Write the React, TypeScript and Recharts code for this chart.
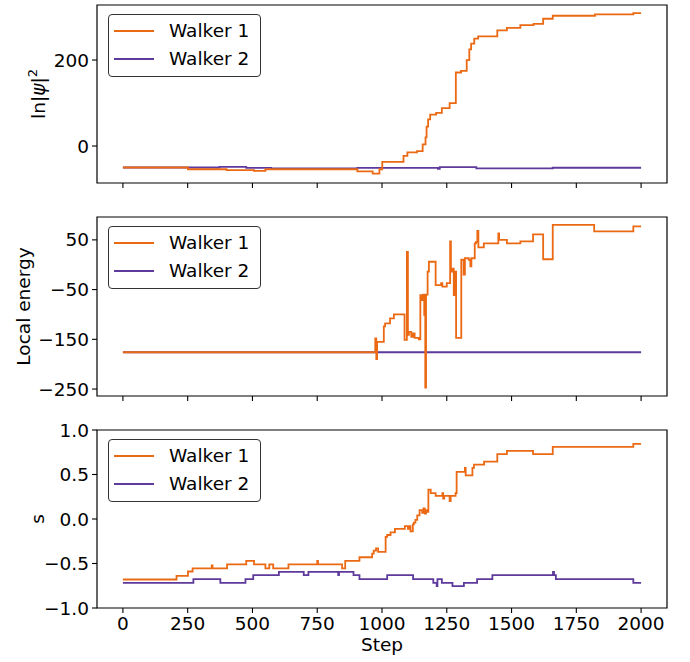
import React from 'react';
import { LineChart, Line, XAxis, YAxis, ReferenceArea } from 'recharts';

// ---------- data ----------
const seriesNames = ['Walker 1', 'Walker 2'];
const seriesColors = ['#EC6913', '#5D3A9B'];
const xTicks = [0, 250, 500, 750, 1000, 1250, 1500, 1750, 2000];

// ln|psi|^2
const psiW1Steps = [0, 251, 400, 506, 550, 905, 964, 990, 1001, 1083, 1098, 1135, 1157, 1168, 1172, 1178, 1186, 1209, 1231, 1261, 1285, 1305, 1327, 1337, 1344, 1356, 1371, 1445, 1482, 1534, 1585, 1622, 1659, 1822, 1970, 2000];
const psiW1Vals = [-50, -54, -56, -58, -54, -59, -64, -54, -37, -23, -15, -12, 4, 20, 45, 62, 73, 77, 88, 100, 171, 175, 200, 225, 238, 250, 255, 269, 275, 281, 284, 296, 303, 306, 309, 309];
const psiW2Steps = [0, 373, 476, 572, 905, 1216, 1223, 1364, 1659, 2000];
const psiW2Vals = [-50, -48.5, -51, -52, -51, -53, -49, -52, -50.5, -50.5];
const psiTicks = [0, 200];

// Local energy
const enW1Steps = [0, 974, 978, 981, 1007, 1012, 1031, 1046, 1087, 1096, 1100, 1104, 1113, 1120, 1126, 1142, 1148, 1152, 1159, 1163, 1167, 1170, 1176, 1181, 1207, 1228, 1233, 1250, 1263, 1266, 1272, 1277, 1281, 1286, 1306, 1315, 1320, 1335, 1341, 1345, 1358, 1363, 1368, 1372, 1393, 1449, 1452, 1482, 1534, 1583, 1622, 1659, 1819, 1970, 2000];
const enW1Vals = [-176, -148, -190, -155, -124, -118, -108, -100, -151, 26, -141, -135, -145, -138, -147, -150, -61, -71, -60, -101, -247, -60, -14, 6, -41, -37, -44, -37, 47, -14, -8, -61, -14, -147, 10, -20, 13, 10, -3, 13, 43, 46, 68, 35, 43, 63, 50, 43, 47, 61, 11, 80, 67, 77, 77];
const enW2Steps = [0, 2000];
const enW2Vals = [-176, -176];
const enTicks = [-250, -150, -50, 50];

// s
const sW1Steps = [0, 207, 251, 269, 343, 346, 402, 476, 506, 550, 565, 580, 639, 750, 753, 846, 858, 913, 962, 968, 977, 985, 1014, 1020, 1033, 1050, 1088, 1100, 1106, 1110, 1119, 1123, 1129, 1136, 1145, 1155, 1160, 1165, 1170, 1175, 1179, 1188, 1207, 1233, 1236, 1240, 1261, 1265, 1284, 1288, 1320, 1323, 1349, 1355, 1394, 1445, 1482, 1583, 1659, 1970, 2000];
const sW1Vals = [-0.68, -0.64, -0.59, -0.555, -0.52, -0.555, -0.51, -0.47, -0.51, -0.555, -0.51, -0.555, -0.51, -0.47, -0.51, -0.555, -0.47, -0.43, -0.39, -0.355, -0.33, -0.37, -0.2, -0.18, -0.15, -0.11, -0.08, -0.11, -0.08, -0.14, -0.06, -0.04, -0.01, 0.04, 0.1, 0.07, 0.12, 0.06, 0.1, 0.08, 0.33, 0.29, 0.26, 0.29, 0.23, 0.26, 0.2, 0.26, 0.29, 0.53, 0.575, 0.49, 0.575, 0.61, 0.645, 0.73, 0.765, 0.73, 0.81, 0.845, 0.845];
const sW2Steps = [0, 272, 376, 473, 503, 602, 698, 716, 831, 834, 890, 913, 1020, 1120, 1198, 1211, 1214, 1231, 1272, 1316, 1367, 1426, 1660, 1664, 1671, 1970, 2000];
const sW2Vals = [-0.717, -0.675, -0.717, -0.675, -0.63, -0.593, -0.63, -0.593, -0.63, -0.593, -0.63, -0.675, -0.63, -0.675, -0.717, -0.755, -0.675, -0.717, -0.754, -0.717, -0.675, -0.63, -0.593, -0.63, -0.675, -0.717, -0.717];
const sTicks = [-1, -0.5, 0, 0.5, 1];

// ---------- helpers ----------
const zip = (steps: number[], vals: number[]) => steps.map((s, i) => ({ step: s, v: vals[i] }));
const FONT = 'DejaVu Sans, sans-serif';
const FS = 18.5;
const minus = (t: string) => t.replace('-', '\u2212');

type PanelProps = {
  top: number;
  height: number;
  marginTop: number;
  xAxisHeight: number;
  domain: [number, number];
  yTicks: number[];
  yFmt: (v: number) => string;
  data: { step: number; v: number }[][];
  yLabel: (vb: any) => React.ReactNode;
  bottom?: boolean;
};

const Legend = ({ top }: { top: number }) => (
  <div
    style={{
      position: 'absolute',
      left: 108,
      top,
      width: 153,
      height: 63,
      boxSizing: 'border-box',
      border: '1.3px solid #333',
      borderRadius: 4,
      background: 'rgba(255,255,255,0.85)',
      fontFamily: FONT,
      fontSize: FS,
      color: '#000',
    }}
  >
    {seriesNames.map((n, i) => (
      <div key={n} style={{ position: 'absolute', left: 0, top: 16 + i * 28 - 12, height: 24, width: 150 }}>
        <div style={{ position: 'absolute', left: 5, top: 11, width: 40, height: 1.8, background: seriesColors[i] }} />
        <div style={{ position: 'absolute', left: 60, top: 0, lineHeight: '24px', whiteSpace: 'nowrap' }}>{n}</div>
      </div>
    ))}
  </div>
);

const Panel = (p: PanelProps) => {
  const order = [1, 0];
  return (
    <div style={{ position: 'absolute', left: 0, top: p.top }}>
      <LineChart width={690} height={p.height} margin={{ top: p.marginTop, right: 23, bottom: 0, left: 0 }}>
        <XAxis
          type="number"
          dataKey="step"
          domain={[-100, 2100]}
          ticks={xTicks}
          allowDataOverflow
          axisLine={false}
          tickSize={5}
          tickMargin={4}
          height={p.xAxisHeight}
          tickLine={{ stroke: '#000', strokeWidth: 1.1 }}
          tick={{ fill: '#000', fontSize: FS, fontFamily: FONT }}
          tickFormatter={(v: number) => (p.bottom ? String(v) : '')}
          label={
            p.bottom
              ? {
                  content: (lp: any) => {
                    const vb = lp.viewBox;
                    return (
                      <text x={vb.x + vb.width / 2} y={vb.y + 43} textAnchor="middle" fontSize={FS} fontFamily={FONT} fill="#000">
                        Step
                      </text>
                    );
                  },
                }
              : undefined
          }
        />
        <YAxis
          type="number"
          dataKey="v"
          width={97}
          domain={p.domain}
          ticks={p.yTicks}
          allowDataOverflow
          axisLine={false}
          tickSize={5}
          tickMargin={3}
          tickLine={{ stroke: '#000', strokeWidth: 1.1 }}
          tick={{ fill: '#000', fontSize: FS, fontFamily: FONT }}
          tickFormatter={p.yFmt}
          label={{ content: (lp: any) => p.yLabel(lp.viewBox) }}
        />
        {order.map((i) => (
          <Line
            key={seriesNames[i]}
            data={p.data[i]}
            dataKey="v"
            name={seriesNames[i]}
            type="stepAfter"
            stroke={seriesColors[i]}
            strokeWidth={1.8}
            dot={false}
            activeDot={false}
            isAnimationActive={false}
          />
        ))}
        <ReferenceArea x1={-100} x2={2100} y1={p.domain[0]} y2={p.domain[1]} fill="none" stroke="#000" strokeWidth={1.2} ifOverflow="visible" />
      </LineChart>
    </div>
  );
};

const rotLabel = (cx: number, cy: number, children: React.ReactNode) => (
  <text x={cx} y={cy} transform={`rotate(-90, ${cx}, ${cy})`} textAnchor="middle" fontSize={FS} fontFamily={FONT} fill="#000">
    {children}
  </text>
);

export default function App() {
  return (
    <div style={{ position: 'absolute', left: 0, top: 0, width: 690, height: 662, background: '#fff' }}>
      <Panel
        top={0}
        height={210}
        marginTop={5}
        xAxisHeight={27}
        domain={[-86, 328]}
        yTicks={psiTicks}
        yFmt={(v) => minus(String(v))}
        data={[zip(psiW1Steps, psiW1Vals), zip(psiW2Steps, psiW2Vals)]}
        yLabel={(vb: any) =>
          rotLabel(
            45,
            vb.y + vb.height / 2,
            <>
              ln|<tspan fontStyle="italic">ψ</tspan>|<tspan dy={-8} fontSize={13}>2</tspan>
            </>
          )
        }
      />
      <Legend top={14} />
      <Panel
        top={210}
        height={210}
        marginTop={7}
        xAxisHeight={24}
        domain={[-264, 96]}
        yTicks={enTicks}
        yFmt={(v) => minus(String(v))}
        data={[zip(enW1Steps, enW1Vals), zip(enW2Steps, enW2Vals)]}
        yLabel={(vb: any) => rotLabel(30, vb.y + vb.height / 2, 'Local energy')}
      />
      <Legend top={226} />
      <Panel
        top={420}
        height={242}
        marginTop={10}
        xAxisHeight={54}
        domain={[-1, 1]}
        yTicks={sTicks}
        yFmt={(v) => minus(v.toFixed(1))}
        data={[zip(sW1Steps, sW1Vals), zip(sW2Steps, sW2Vals)]}
        yLabel={(vb: any) => rotLabel(44, vb.y + vb.height / 2, 's')}
        bottom
      />
      <Legend top={439} />
    </div>
  );
}
